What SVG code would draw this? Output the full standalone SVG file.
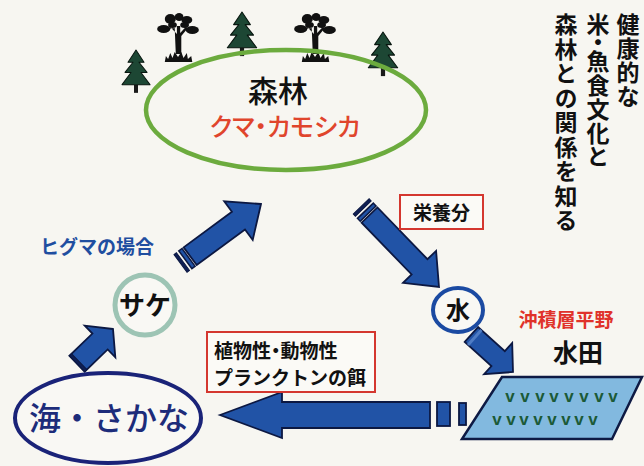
<svg xmlns="http://www.w3.org/2000/svg" width="644" height="466" viewBox="0 0 644 466">
  <style>
    .jp { font-family: "Noto Sans CJK JP", "Noto Sans", sans-serif; }
    .b { font-weight: 700; }
    .palt { font-feature-settings: "palt"; }
    .arrow { fill: #2153a6; stroke: #0c1842; stroke-width: 1.8; stroke-linejoin: miter; }
    .stripe { fill: #2153a6; stroke: #0c1842; stroke-width: 1.5; }
    .dark { fill: #0f1f55; stroke: #0c1842; stroke-width: 1; }
    .box { fill: #fbfaf6; stroke: #d4372f; stroke-width: 2; }
    .pine { fill: #1d4734; stroke: #08160f; stroke-width: 1; stroke-linejoin: round; }
    .leaf { fill: #111; }
    .vert { writing-mode: vertical-rl; }
    .rice { font-family: "Liberation Sans", sans-serif; font-weight: 700; font-size: 17px; fill: #1b5a37; }
  </style>
  <defs>
    <!-- evergreen tree, origin at top centre -->
    <g id="pine">
      <rect x="-2" y="34" width="4" height="8" fill="#1a1a1a"/>
      <polygon class="pine" points="0,0 -8,12 -3,12 -11,22 -5,22 -14,34 14,34 5,22 11,22 3,12 8,12"/>
    </g>
    <!-- leafy tree with grass tuft, origin at top centre -->
    <g id="leafy">
      <path class="leaf" d="M-3,14 L-2,40 L3,40 L3,22 L9,14 L7,13 L2,19 L2,12 L-1,12 L-1,20 L-7,13 L-9,15 Z"/>
      <ellipse class="leaf" cx="-7" cy="5" rx="5" ry="5"/>
      <ellipse class="leaf" cx="1" cy="3" rx="4" ry="4"/>
      <ellipse class="leaf" cx="8" cy="6" rx="5" ry="4"/>
      <ellipse class="leaf" cx="-13" cy="15" rx="6" ry="4"/>
      <ellipse class="leaf" cx="13" cy="16" rx="6" ry="4"/>
      <ellipse class="leaf" cx="-5" cy="11" rx="4" ry="3"/>
      <ellipse class="leaf" cx="6" cy="11" rx="4" ry="3"/>
      <path class="leaf" d="M-12,48 L-11,42 L-9,45 L-7,39 L-5,44 L-3,38 L0,43 L3,38 L5,44 L8,39 L9,45 L12,42 L13,48 Z"/>
    </g>
  </defs>

  <rect width="644" height="466" fill="#f7f6f1"/>

  <!-- trees on the forest rim -->
  <g id="trees">
    <use href="#pine" transform="translate(136,50) scale(1,1.02)"/>
    <use href="#leafy" transform="translate(178,14) scale(1.1,1)"/>
    <use href="#pine" transform="translate(242,12) scale(1.05,1.05)"/>
    <use href="#leafy" transform="translate(315,14) scale(1.1,1)"/>
    <use href="#pine" transform="translate(383,32) scale(1.05,1.05)"/>
  </g>

  <!-- forest -->
  <g id="forest">
    <ellipse cx="286" cy="110" rx="140" ry="60" fill="none" stroke="#6cab3e" stroke-width="4.5"/>
    <text class="jp" x="278" y="102" font-size="30" font-weight="500" text-anchor="middle" fill="#111">森林</text>
    <text class="jp palt" x="285" y="136" font-size="25" font-weight="500" text-anchor="middle" fill="#e0452c">クマ・カモシカ</text>
  </g>

  <!-- title column -->
  <g id="title" class="jp b" font-size="23" fill="#111">
    <text class="vert" x="628" y="13" letter-spacing="1">健康的な</text>
    <text class="vert" x="598" y="13" letter-spacing="1" style="font-feature-settings: 'vpal'">米・魚食文化と</text>
    <text class="vert" x="566" y="13" letter-spacing="1.5">森林との関係を知る</text>
  </g>

  <!-- connectors -->
  <g id="connectors">
    <!-- salmon to forest -->
    <g transform="translate(261,204) rotate(-36.4)">
      <polygon class="arrow" points="0,0 -28,-24 -28,-11 -88,-11 -88,11 -28,11 -28,24"/>
      <rect class="stripe" x="-94" y="-11" width="4" height="22"/>
      <rect class="dark" x="-100" y="-11" width="3" height="22"/>
    </g>
    <!-- forest to water -->
    <g transform="translate(439,287) rotate(46)">
      <polygon class="arrow" points="0,0 -28,-23 -28,-11 -100,-11 -100,11 -28,11 -28,23"/>
      <rect class="stripe" x="-106" y="-11" width="4" height="22"/>
      <rect class="dark" x="-112" y="-11" width="3" height="22"/>
    </g>
    <!-- water to paddy -->
    <g transform="translate(513,372) rotate(42)">
      <polygon class="arrow" points="0,0 -20,-21 -20,-10 -56,-10 -56,10 -20,10 -20,21"/>
      <rect x="-53" y="-10" width="3" height="20" fill="#4f7cc4"/>
    </g>
    <!-- paddy to sea -->
    <polygon class="arrow" points="220,415 282,392 282,402 430,402 430,428 282,428 282,438"/>
    <rect class="arrow" x="437" y="402" width="13" height="24"/>
    <rect class="arrow" x="459" y="403" width="7" height="22"/>
    <!-- sea to salmon -->
    <g transform="translate(113,329) rotate(-44)">
      <polygon class="arrow" points="0,0 -18,-22 -18,-11 -50,-11 -50,11 -18,11 -18,22"/>
      <rect class="dark" x="-50" y="-11" width="3" height="22"/>
    </g>
  </g>

  <!-- labels beside connectors -->
  <g id="label-bear">
    <text class="jp b" x="40" y="254" font-size="19" fill="#1f4ea0">ヒグマの場合</text>
  </g>
  <g id="label-nutrients">
    <rect class="box" x="400" y="195" width="83" height="34"/>
    <text class="jp b" x="441.5" y="220" font-size="19" text-anchor="middle" fill="#111">栄養分</text>
  </g>
  <g id="label-plankton">
    <rect class="box" x="207" y="332" width="168" height="60"/>
    <text class="jp b palt" x="214" y="358" font-size="19" fill="#111">植物性・動物性</text>
    <text class="jp b" x="214" y="385" font-size="19" fill="#111">プランクトンの餌</text>
  </g>

  <!-- salmon -->
  <g id="salmon">
    <circle cx="145" cy="305" r="30" fill="#f9f8f4" stroke="#9dc4b4" stroke-width="5"/>
    <text class="jp b" x="145" y="315" font-size="26" text-anchor="middle" fill="#111">サケ</text>
  </g>

  <!-- water -->
  <g id="water">
    <ellipse cx="458" cy="310" rx="25" ry="22" fill="#f9f8f4" stroke="#1b4aa2" stroke-width="4"/>
    <text class="jp b" x="458" y="319" font-size="24" text-anchor="middle" fill="#111">水</text>
  </g>

  <!-- paddy field -->
  <g id="paddy">
    <text class="jp b" x="566" y="327" font-size="19" text-anchor="middle" fill="#e0322a">沖積層平野</text>
    <text class="jp b" x="578" y="362" font-size="25" text-anchor="middle" fill="#111">水田</text>
    <polygon points="502,377 642,377 612,439 462,439" fill="#82b9df" stroke="#0e1a44" stroke-width="2.5" stroke-linejoin="miter"/>
    <text class="rice" text-anchor="middle" x="510 525 540 554 569 584 599 613" y="402">vvvvvvvv</text>
    <text class="rice" text-anchor="middle" x="497 511 524 538 552 566 579 593" y="425">vvvvvvvv</text>
  </g>

  <!-- sea -->
  <g id="sea">
    <ellipse cx="108" cy="418" rx="93" ry="45" fill="#f9f8f4" stroke="#1a2378" stroke-width="4"/>
    <text class="jp" x="109" y="430" font-size="32" font-weight="500" text-anchor="middle" fill="#1d2c7a">海・さかな</text>
  </g>
</svg>
